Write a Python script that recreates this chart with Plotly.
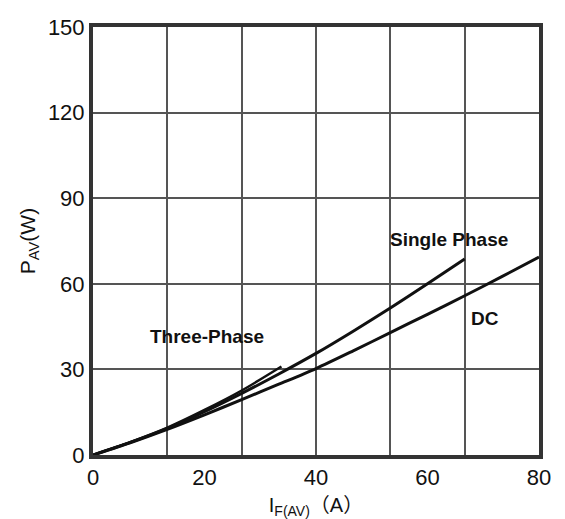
import plotly.graph_objects as go

# Data
dc_x = [0, 6.67, 13.33, 20, 26.67, 33.33, 40, 46.67, 53.33, 60, 66.67, 73.33, 80]
dc_y = [0, 4.3, 9.0, 14.1, 19.4, 24.8, 30.3, 36.5, 42.9, 49.3, 55.8, 62.5, 69.4]

single_x = [0, 6.67, 13.33, 20, 26.67, 33.33, 40, 46.67, 53.33, 60, 66.67]
single_y = [0, 4.4, 9.3, 15.2, 21.6, 28.4, 35.6, 43.4, 51.5, 60.0, 68.7]

three_x = [0, 6.67, 13.33, 20, 26.67, 33.8]
three_y = [0, 4.5, 9.6, 15.8, 22.6, 31.0]

x_ticks = [0, 20, 40, 60, 80]
x_grid = [0, 13.333, 26.667, 40, 53.333, 66.667, 80]
y_ticks = [0, 30, 60, 90, 120, 150]

labels = [("Single Phase", 63.9, 75.5), ("DC", 70.3, 47.8), ("Three-Phase", 20.5, 41.5)]

font = "Liberation Sans, Arial, sans-serif"

fig = go.Figure()
for xs, ys, w in [(dc_x, dc_y, 3), (single_x, single_y, 3), (three_x, three_y, 2.5)]:
    fig.add_trace(go.Scatter(x=xs, y=ys, mode="lines",
                             line=dict(color="#111", width=w, shape="spline", smoothing=0.8),
                             showlegend=False, hoverinfo="skip"))
# invisible trace on grid axis
fig.add_trace(go.Scatter(x=[0, 80], y=[0, 0], xaxis="x2", mode="lines",
                         line=dict(width=0), showlegend=False, hoverinfo="skip"))

for text, x, y in labels:
    fig.add_annotation(x=x, y=y, text="<b>%s</b>" % text, showarrow=False,
                       font=dict(family=font, size=19, color="#111"))

x_title = ("I<sub>F(AV)</sub>"
           "<span style='font-family:Noto Sans CJK SC'>（</span>A"
           "<span style='font-family:Noto Sans CJK SC'>）</span>")

fig.update_layout(
    width=557, height=511,
    margin=dict(l=85, r=26, t=7, b=64),
    plot_bgcolor="white", paper_bgcolor="white",
    font=dict(family=font, color="#111"),
    xaxis=dict(range=[0, 80], tickvals=x_ticks, showgrid=False, zeroline=False,
               showline=True, mirror=True, linecolor="#333", linewidth=4,
               ticks="", tickfont=dict(size=22, family=font), ticklabeloverflow="allow",
               title=dict(text=x_title, font=dict(size=20, family=font), standoff=4)),
    xaxis2=dict(range=[0, 80], overlaying="x", tickvals=x_grid, showticklabels=False,
                showgrid=True, gridcolor="#555", gridwidth=1.5, zeroline=False,
                showline=False, ticks=""),
    yaxis=dict(range=[0, 150], tickvals=y_ticks, showgrid=True, gridcolor="#555",
               gridwidth=1.5, zeroline=False, showline=True, mirror=True,
               linecolor="#333", linewidth=4, ticks="", ticklabeloverflow="allow",
               tickfont=dict(size=22, family=font),
               title=dict(text="P<sub>AV</sub>(W)", font=dict(size=21, family=font), standoff=8)),
)
fig.write_html("out.html")
